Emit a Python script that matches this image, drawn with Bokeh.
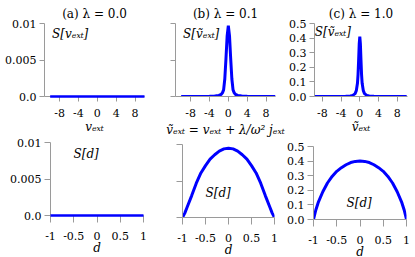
from bokeh.plotting import figure
from bokeh.models import Range1d, FixedTicker, Label, Column
from bokeh.embed import file_html
from bokeh.resources import INLINE

# ---------------- data ----------------
v_a = [-10.0, 10.0]
S_v_a = [0.0, 0.0]

v_b = [-10, -6, -4, -3, -2.5, -2, -1.5, -1.25, -1, -0.75, -0.5, -0.25, 0,
       0.25, 0.5, 0.75, 1, 1.25, 1.5, 2, 2.5, 3, 4, 6, 10]
S_v_b = [0.0, 0.00001, 0.00002, 0.00005, 0.0001, 0.00015, 0.0003, 0.0005, 0.0009, 0.0024, 0.0052, 0.0083, 0.0097,
         0.0083, 0.0052, 0.0024, 0.0009, 0.0005, 0.0003, 0.00015, 0.0001, 0.00005, 0.00002, 0.00001, 0.0]

v_c = [-10, -4, -3, -2, -1.5, -1, -0.75, -0.5, -0.375, -0.25, -0.125, 0,
       0.125, 0.25, 0.375, 0.5, 0.75, 1, 1.5, 2, 3, 4, 10]
S_v_c = [0.0, 0.0005, 0.001, 0.004, 0.008, 0.02, 0.04, 0.09, 0.15, 0.25, 0.36, 0.41,
         0.36, 0.25, 0.15, 0.09, 0.04, 0.02, 0.008, 0.004, 0.001, 0.0005, 0.0]

d_a = [-1.0, 1.0]
S_d_a = [0.0, 0.0]

d_grid = [-1, -0.95, -0.9, -0.8, -0.7, -0.6, -0.5, -0.4, -0.3, -0.2, -0.1, 0,
          0.1, 0.2, 0.3, 0.4, 0.5, 0.6, 0.7, 0.8, 0.9, 0.95, 1]
S_d_b = [0.0, 0.0006, 0.0014, 0.0030, 0.0047, 0.0061, 0.0071, 0.0080, 0.0086, 0.0091, 0.0094, 0.0095,
         0.0094, 0.0091, 0.0086, 0.0080, 0.0071, 0.0061, 0.0047, 0.0030, 0.0014, 0.0006, 0.0]
S_d_c = [0.0, 0.065, 0.115, 0.19, 0.25, 0.295, 0.33, 0.355, 0.375, 0.39, 0.398, 0.40,
         0.398, 0.39, 0.375, 0.355, 0.33, 0.295, 0.25, 0.19, 0.115, 0.065, 0.0]

titles = ["(a) \u03bb = 0.0", "(b) \u03bb = 0.1", "(c) \u03bb = 1.0"]
x_labels_top = ["v\u2091\u2093\u209c",
                "\u1e7d\u2091\u2093\u209c = v\u2091\u2093\u209c + \u03bb/\u03c9\u00b2 j\u2091\u2093\u209c",
                "\u1e7d\u2091\u2093\u209c"]
x_label_bottom = "d"
y_labels_top = ["S[v\u2091\u2093\u209c]", "S[\u1e7d\u2091\u2093\u209c]", "S[\u1e7d\u2091\u2093\u209c]"]
y_label_bottom = "S[d]"

v_ticks = [-8, -4, 0, 4, 8]
v_tick_labels = ["-8", "-4", "0", "4", "8"]
d_ticks = [-1, -0.5, 0, 0.5, 1]
d_tick_labels = ["-1", "-0.5", "0", "0.5", "1"]
small_ticks = [0, 0.005, 0.01]
small_tick_labels = ["0.0", "0.005", "0.01"]
big_ticks = [0, 0.1, 0.2, 0.3, 0.4, 0.5]
big_tick_labels = ["0.0", "0.1", "0.2", "0.3", "0.4", "0.5"]

W, H = 410, 255
AX = "#9a9a9a"
SERIF = "DejaVu Serif"
BLUE = "#0000ff"


def make_fig(xr, yr, left, fw, top, fh, first=False):
    p = figure(frame_width=fw, frame_height=fh, x_range=Range1d(*xr), y_range=Range1d(*yr),
               output_backend="svg", toolbar_location=None, frame_align=False,
               min_border_left=left, min_border_right=W - left - fw,
               min_border_top=top, min_border_bottom=H - top - fh)
    if not first:
        p.styles = {"margin-top": "-%dpx" % H}
    p.background_fill_color = None
    p.border_fill_color = None
    p.outline_line_color = None
    p.grid.visible = False
    for ax in (p.xaxis[0], p.yaxis[0]):
        ax.axis_line_color = AX
        ax.major_tick_line_color = AX
        ax.minor_tick_line_color = None
        ax.major_tick_in = 0
        ax.major_tick_out = 5
        ax.major_label_text_font = SERIF
        ax.major_label_text_font_size = "11px"
        ax.major_label_text_color = "black"
        ax.axis_label_text_font = SERIF
        ax.axis_label_text_font_size = "12px"
        ax.axis_label_text_font_style = "italic"
        ax.axis_label_text_color = "black"
    p.yaxis[0].major_label_standoff = 3
    p.xaxis[0].major_label_standoff = 7
    p.xaxis[0].axis_label_standoff = 0
    p.title.text_font = SERIF
    p.title.text_font_size = "12px"
    p.title.text_font_style = "normal"
    p.title.text_color = "black"
    p.title.align = "center"
    p.title.standoff = 6
    return p


def ticks(ax, vals, labels, show=True):
    ax.ticker = FixedTicker(ticks=vals)
    ax.major_label_overrides = {v: (l if show else "") for v, l in zip(vals, labels)}


def lab(p, x, y, text):
    p.add_layout(Label(x=x, y=y, text=text, text_align="left", text_baseline="middle",
                       text_font=SERIF, text_font_size="12px", text_font_style="italic",
                       text_color="black"))


TOP_T, BOT_T, FH = 23, 142, 73

# top row
pa = make_fig((-11.2, 10.0), (0, 0.01), 44, 100, TOP_T, FH, first=True)
ra = pa.line(v_a, S_v_a, line_color=BLUE, line_width=2.5)
ticks(pa.xaxis[0], v_ticks, v_tick_labels)
ticks(pa.yaxis[0], small_ticks, small_tick_labels)
pa.title.text = titles[0]
pa.xaxis[0].axis_label = x_labels_top[0]
lab(pa, -9.6, 0.00863, y_labels_top[0])

pb = make_fig((-11.2, 10.0), (0, 0.01), 175, 100, TOP_T, FH)
pb.line(v_b, S_v_b, line_color=BLUE, line_width=3)
ticks(pb.xaxis[0], v_ticks, v_tick_labels)
ticks(pb.yaxis[0], small_ticks, small_tick_labels, show=False)
pb.title.text = titles[1]
pb.xaxis[0].axis_label = x_labels_top[1]
pb.xaxis[0].axis_label_standoff = 3
lab(pb, -9.6, 0.00863, y_labels_top[1])

pc = make_fig((-9.66, 10.17), (0, 0.5), 314, 93, TOP_T, FH)
pc.line(v_c, S_v_c, line_color=BLUE, line_width=3)
ticks(pc.xaxis[0], v_ticks, v_tick_labels)
ticks(pc.yaxis[0], big_ticks, big_tick_labels)
pc.title.text = titles[2]
pc.xaxis[0].axis_label = x_labels_top[2]
lab(pc, -9.6, 0.445, y_labels_top[2])

# bottom row
qa = make_fig((-1, 1), (0, 0.01), 50, 93, BOT_T, FH)
rqa = qa.line(d_a, S_d_a, line_color=BLUE, line_width=2.5)
ticks(qa.xaxis[0], d_ticks, d_tick_labels)
ticks(qa.yaxis[0], small_ticks, small_tick_labels)
lab(qa, -0.505, 0.00849, y_label_bottom)

qb = make_fig((-1, 1), (0, 0.01), 182, 92, BOT_T, FH)
qb.line(d_grid, S_d_b, line_color=BLUE, line_width=3)
ticks(qb.xaxis[0], d_ticks, d_tick_labels)
ticks(qb.yaxis[0], small_ticks, small_tick_labels, show=False)
lab(qb, -0.5, 0.00342, y_label_bottom)

qc = make_fig((-1, 1), (0, 0.5), 313, 93, BOT_T, FH)
qc.line(d_grid, S_d_c, line_color=BLUE, line_width=3)
ticks(qc.xaxis[0], d_ticks, d_tick_labels)
ticks(qc.yaxis[0], big_ticks, big_tick_labels)
lab(qc, -0.29, 0.1164, y_label_bottom)

for q in (qa, qb, qc):
    q.xaxis[0].major_tick_out = 7
    q.xaxis[0].major_label_standoff = 9
    q.xaxis[0].axis_label = x_label_bottom
    q.xaxis[0].axis_label_standoff = -2
    q.yaxis[0].major_tick_out = 6

for r in (ra, rqa):
    r.level = "overlay"

layout = Column(children=[pa, pb, pc, qa, qb, qc])
open("out.html", "w").write(file_html(layout, INLINE))
